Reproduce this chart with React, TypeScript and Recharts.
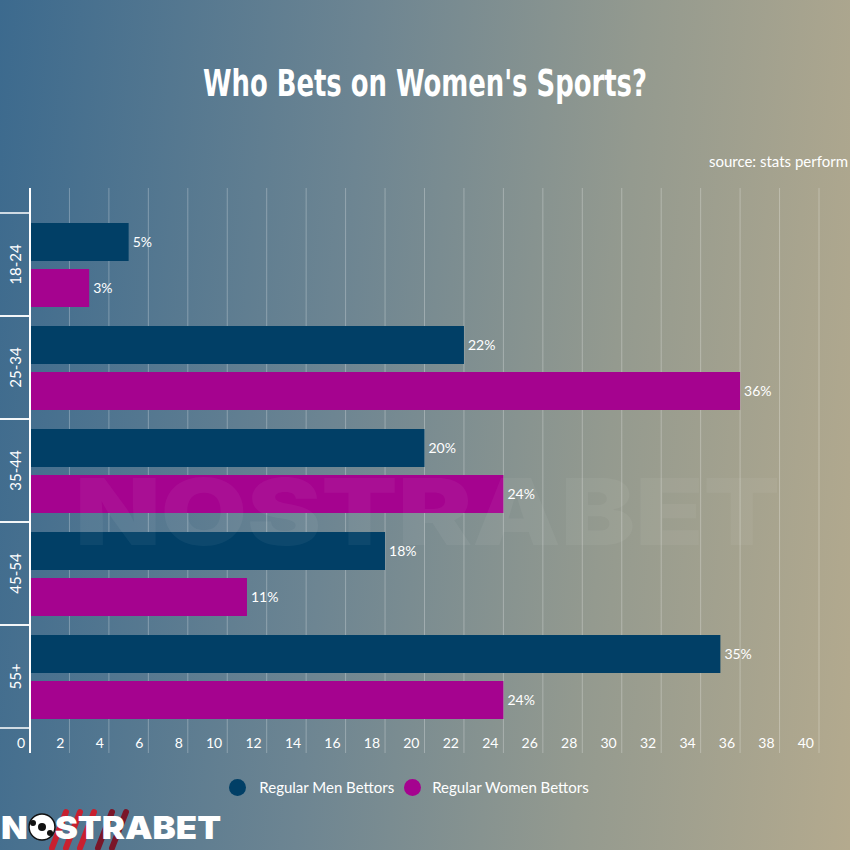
import React from "react";
import {
  BarChart,
  Bar,
  XAxis,
  YAxis,
  CartesianGrid,
  LabelList,
} from "recharts";

const ages = ["18-24", "25-34", "35-44", "45-54", "55+"];
const menBettors = [5, 22, 20, 18, 35];
const womenBettors = [3, 36, 24, 11, 24];
const xTicks = [0, 2, 4, 6, 8, 10, 12, 14, 16, 18, 20, 22, 24, 26, 28, 30, 32, 34, 36, 38, 40];

const W = 850;
const H = 850;
const X_AXIS_H = 30;
const MARGIN = { top: 188, right: 31, left: 0, bottom: 97 - X_AXIS_H };
const PAD = 25;
const BAND = (H - 188 - 97 - 2 * PAD) / ages.length;

const MEN = "#013f66";
const WOMEN = "#a5038f";
const FONT = "Lato, 'Open Sans', sans-serif";

const data = ages.map((age, i) => ({
  age,
  men: menBettors[i],
  women: womenBettors[i],
}));

// age label rotated, with white lines on the band edges
const AgeTick = (props: any) => {
  const { x, y, payload } = props;
  return (
    <g>
      <line x1={0} x2={x + 8} y1={y - BAND / 2} y2={y - BAND / 2} stroke="#fff" strokeWidth={1.5} />
      <line x1={0} x2={x + 8} y1={y + BAND / 2} y2={y + BAND / 2} stroke="#fff" strokeWidth={1.5} />
      <text
        x={15}
        y={y}
        transform={`rotate(-90 15 ${y})`}
        textAnchor="middle"
        dominantBaseline="central"
        fill="#fff"
        fontSize={15}
        fontFamily={FONT}
      >
        {payload.value}
      </text>
    </g>
  );
};

// x tick labels sit inside the plot, right-aligned against their grid line
const ValueTick = (props: any) => {
  const { x, y, payload } = props;
  return (
    <text
      x={x - 5}
      y={y - 13}
      textAnchor="end"
      fill="#fff"
      fontSize={14}
      fontFamily={FONT}
    >
      {payload.value}
    </text>
  );
};

const Logo = () => (
  <svg width={240} height={50} style={{ position: "absolute", left: 0, top: 800 }}>
    {[52, 66, 80, 98, 112].map((sx, i) => (
      <line
        key={i}
        x1={sx + 14}
        y1={12}
        x2={sx}
        y2={48}
        stroke={i < 3 ? "#c8202f" : "#7a1628"}
        strokeWidth={6}
        strokeLinecap="round"
      />
    ))}
    <text
      x={1}
      y={39}
      fill="#fff"
      fontSize={32}
      fontWeight={900}
      fontFamily="Inter, sans-serif"
      textLength={220}
      lengthAdjust="spacingAndGlyphs"
    >
      NOSTRABET
    </text>
    <circle cx={42} cy={27} r={13} fill="#fff" stroke="#111" strokeWidth={1.5} />
    <circle cx={42} cy={27} r={4} fill="#111" />
    <circle cx={33} cy={23} r={3} fill="#111" />
    <circle cx={50} cy={33} r={3} fill="#111" />
  </svg>
);

export default function App() {
  return (
    <div
      style={{
        position: "absolute",
        left: 0,
        top: 0,
        width: W,
        height: H,
        overflow: "hidden",
        background: "linear-gradient(95deg, #3c6a8e 0%, #6d8592 40%, #949a8f 70%, #b4aa8e 100%)",
        fontFamily: FONT,
      }}
    >
      <svg width={W} height={130} style={{ position: "absolute", left: 0, top: 0 }}>
        <text
          x={W / 2}
          y={96}
          textAnchor="middle"
          fill="#fff"
          fontSize={38}
          fontWeight={700}
          fontFamily="'DejaVu Sans Condensed', 'Liberation Sans', sans-serif"
          textLength={444}
          lengthAdjust="spacingAndGlyphs"
        >
          Who Bets on Women's Sports?
        </text>
      </svg>
      <div
        style={{
          position: "absolute",
          top: 152,
          right: 2,
          color: "#fff",
          fontSize: 15,
        }}
      >
        source: stats perform
      </div>

      <BarChart
        width={W}
        height={H}
        data={data}
        layout="vertical"
        margin={MARGIN}
        barCategoryGap={10}
        barGap={8}
        style={{ position: "absolute", left: 0, top: 0 }}
      >
        <CartesianGrid horizontal={false} stroke="rgba(255,255,255,0.28)" strokeWidth={1} />
        <XAxis
          type="number"
          domain={[0, 40]}
          ticks={xTicks}
          interval={0}
          height={X_AXIS_H}
          axisLine={false}
          tickLine={false}
          tick={<ValueTick />}
        />
        <YAxis
          type="category"
          dataKey="age"
          width={30}
          padding={{ top: PAD, bottom: PAD }}
          axisLine={{ stroke: "#fff", strokeWidth: 2 }}
          tickLine={false}
          tick={<AgeTick />}
          interval={0}
        />
        <Bar dataKey="men" name="Regular Men Bettors" fill={MEN} isAnimationActive={false}>
          <LabelList
            dataKey="men"
            position="right"
            offset={4}
            formatter={(v: any) => `${v}%`}
            fill="#fff"
            fontSize={14}
            fontFamily={FONT}
          />
        </Bar>
        <Bar dataKey="women" name="Regular Women Bettors" fill={WOMEN} isAnimationActive={false}>
          <LabelList
            dataKey="women"
            position="right"
            offset={4}
            formatter={(v: any) => `${v}%`}
            fill="#fff"
            fontSize={14}
            fontFamily={FONT}
          />
        </Bar>
      </BarChart>

      {/* faint watermark over the plot */}
      <svg width={W} height={H} style={{ position: "absolute", left: 0, top: 0, pointerEvents: "none" }}>
        <text
          x={75}
          y={545}
          fill="#fff"
          fillOpacity={0.05}
          fontSize={92}
          fontWeight={900}
          fontFamily="Inter, sans-serif"
          textLength={705}
          lengthAdjust="spacingAndGlyphs"
        >
          NOSTRABET
        </text>
      </svg>

      <div
        style={{
          position: "absolute",
          top: 778,
          left: 0,
          width: W - 32,
          display: "flex",
          justifyContent: "center",
          alignItems: "center",
          color: "#fff",
          fontSize: 15,
        }}
      >
        <span style={{ width: 17, height: 17, borderRadius: 9, background: MEN, marginRight: 13 }} />
        <span style={{ marginRight: 10 }}>Regular Men Bettors</span>
        <span style={{ width: 17, height: 17, borderRadius: 9, background: WOMEN, marginRight: 11 }} />
        <span>Regular Women Bettors</span>
      </div>

      <Logo />
    </div>
  );
}
